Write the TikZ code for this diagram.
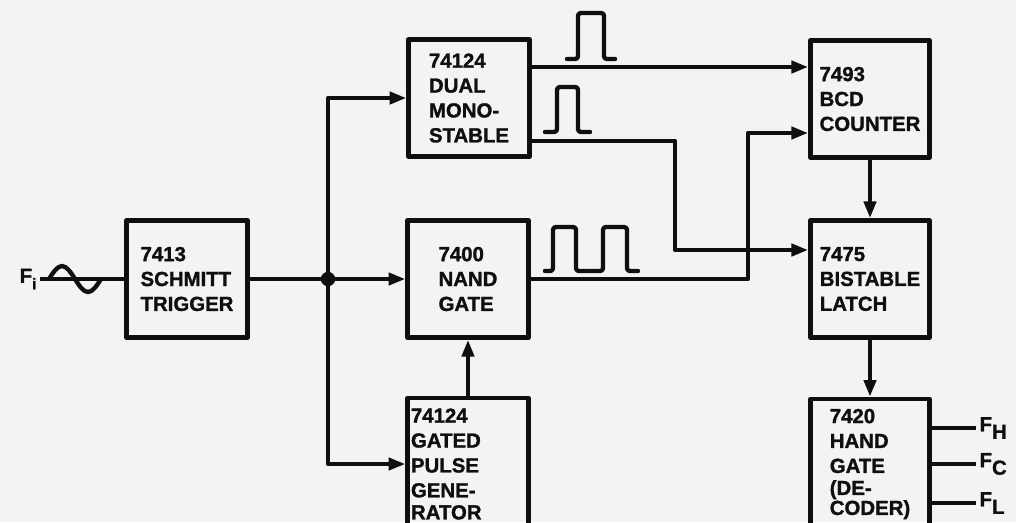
\documentclass[tikz,border=0pt]{standalone}
\usepackage{fontspec}
\newfontfamily\chipfont[FakeBold=1.3]{Liberation Sans}
\usetikzlibrary{arrows.meta}
\definecolor{paper}{RGB}{243,243,243}
\definecolor{ink}{RGB}{15,15,15}

\begin{document}
\begin{tikzpicture}[x=0.025cm,y=-0.025cm,>={Triangle[length=0.42cm,width=0.3cm]},
 line width=3.1pt,line join=round,color=ink,
 chip/.style={draw,minimum width=3.02cm,minimum height=2.93cm,align=left,inner sep=2pt,
  font=\chipfont\bfseries\fontsize{14.5}{17.7}\selectfont},
 sig/.style={font=\chipfont\bfseries\fontsize{14.5}{17.7}\selectfont,inner sep=1pt},
 pulse/.style={rounded corners=2pt,line cap=round}]
 \fill[paper] (0,0) rectangle (1016,522);
 \useasboundingbox (0,0) rectangle (1016,522);
 % blocks
 \node[chip] (schmitt) at (187,279) {7413\\SCHMITT\\TRIGGER};
 \node[chip] (mono) at (469,98) {74124\\DUAL\\MONO-\\STABLE};
 \node[chip] (nand) at (468,279) {7400\\NAND\\GATE};
 \node[chip,minimum height=3.3cm,text width=2.85cm] (gated) at (468,464)
  {74124\\GATED\\PULSE\\GENE-\\[-2pt]RATOR};
 \node[chip,minimum width=2.98cm] (bcd) at (870,99) {7493\\BCD\\COUNTER};
 \node[chip,minimum width=2.98cm] (latch) at (870,279) {7475\\BISTABLE\\LATCH};
 \node[chip,minimum width=2.98cm,minimum height=3.25cm] (dec) at (870,464)
  {7420\\HAND\\GATE\\[-2pt](DE-\\[-3.5pt]CODER)};
 % levels and bends
 \coordinate (jn) at (328,279);
 \coordinate (rowA) at (0,67);
 \coordinate (rowB) at (0,133);
 \coordinate (rowC) at (0,141);
 \coordinate (rowD) at (0,250);
 \coordinate (bendA) at (675,0);
 \coordinate (bendB) at (748,0);
 % input
 \node[sig,anchor=east] (fi) at (40,279) {F\raisebox{-0.6ex}{\fontsize{11}{11}\selectfont i}};
 \draw (fi.east) -- (schmitt.west);
 \draw (49,279) sin (62,266) cos (75,279) sin (88,292) cos (101,279);
 \draw (schmitt.east) -- (jn);
 \fill (jn) circle[radius=0.18cm];
 \draw[->] (jn) -- (nand.west);
 \draw[->] (jn) |- (mono.west);
 \draw[->] (jn) |- (gated.west);
 \draw[->] (gated.north) -- (nand.south);
 % to counter and latch
 \draw[->] (mono.east |- rowA) -- (bcd.west |- rowA);
 \draw[->] (mono.east |- rowC) -| (bendA |- rowD) -- (latch.west |- rowD);
 \draw[->] (nand.east) -| (bendB |- rowB) -- (bcd.west |- rowB);
 \draw[->] (bcd.south) -- (latch.north);
 \draw[->] (latch.south) -- (dec.north);
 % waveforms
 \draw[pulse] (567,59) -- (578,59) -- (578,13) -- (604,13) -- (604,59) -- (615,59);
 \draw[pulse] (545,132) -- (557,132) -- (557,87) -- (578,87) -- (578,132) -- (590,132);
 \draw[pulse] (545,271) -- (553,271) -- (553,227) -- (576,227) -- (576,271)
  -- (603,271) -- (603,227) -- (627,227) -- (627,271) -- (638,271);
 % outputs
 \node[sig,anchor=west] (fh) at (976,428) {F\raisebox{-0.7ex}{H}};
 \node[sig,anchor=west] (fc) at (976,464) {F\raisebox{-0.7ex}{C}};
 \node[sig,anchor=west] (fl) at (976,503) {F\raisebox{-0.7ex}{L}};
 \draw (dec.east |- fh.west) -- (fh.west);
 \draw (dec.east |- fc.west) -- (fc.west);
 \draw (dec.east |- fl.west) -- (fl.west);
\end{tikzpicture}
\end{document}
